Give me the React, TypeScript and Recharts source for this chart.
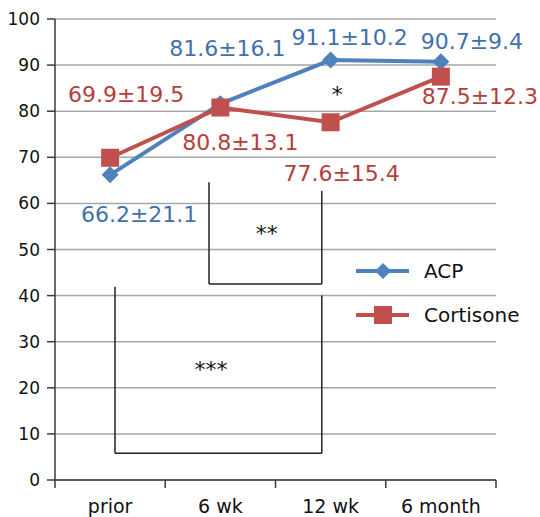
import React from "react";
import {
  LineChart,
  Line,
  XAxis,
  YAxis,
  CartesianGrid,
  LabelList,
  ReferenceLine,
  ReferenceDot,
} from "recharts";

// data
const categories = ["prior", "6 wk", "12 wk", "6 month"];
const acpMean = [66.2, 81.6, 91.1, 90.7];
const acpSd = [21.1, 16.1, 10.2, 9.4];
const cortMean = [69.9, 80.8, 77.6, 87.5];
const cortSd = [19.5, 13.1, 15.4, 12.3];
const yTicks = [0, 10, 20, 30, 40, 50, 60, 70, 80, 90, 100];

const BLUE = "#4F81BD";
const RED = "#C0504D";
const BLUE_TEXT = "#4270AC";
const RED_TEXT = "#B3403D";
const AXIS = "#3a3a3a";
const FONT = "'DejaVu Sans', sans-serif";

// label offsets (px) from each point
const acpLabelOffset = [
  { dx: 29, dy: 40 },
  { dx: 7, dy: -55 },
  { dx: 19, dy: -23 },
  { dx: 31, dy: -20 },
];
const cortLabelOffset = [
  { dx: 16, dy: -63 },
  { dx: 20, dy: 35 },
  { dx: 11, dy: 51 },
  { dx: 39, dy: 20 },
];

// significance brackets, in axis units
const brackets = [
  [
    { x: 0.544, y: 41.9 },
    { x: 0.544, y: 5.8 },
    { x: 2.42, y: 5.8 },
    { x: 2.42, y: 40 },
  ],
  [
    { x: 1.397, y: 64.6 },
    { x: 1.397, y: 42.5 },
    { x: 2.42, y: 42.5 },
    { x: 2.42, y: 62.7 },
  ],
];
const stars = [
  { x: 1.415, y: 24.7, text: "***" },
  { x: 1.92, y: 54.2, text: "**" },
  { x: 2.56, y: 84.4, text: "*" },
];

const data = categories.map((c, i) => ({
  name: c,
  pos: i + 0.5,
  acp: acpMean[i],
  cort: cortMean[i],
}));

const xTicks = [0, 0.5, 1, 1.5, 2, 2.5, 3, 3.5, 4];

function XTick(props: any) {
  const { x, y, payload } = props;
  const v = payload.value as number;
  if (Number.isInteger(v)) {
    return <line x1={x} x2={x} y1={y} y2={y + 8} stroke={AXIS} strokeWidth={1.5} />;
  }
  return (
    <text x={x} y={y + 33} textAnchor="middle" fill="#111" fontSize={19} fontFamily={FONT}>
      {categories[Math.floor(v)]}
    </text>
  );
}

function Diamond(props: any) {
  const { cx, cy } = props;
  if (cx == null || cy == null) return null;
  const r = 8.5;
  return (
    <path
      d={`M${cx},${cy - r} L${cx + r},${cy} L${cx},${cy + r} L${cx - r},${cy} Z`}
      fill={BLUE}
    />
  );
}

function Square(props: any) {
  const { cx, cy } = props;
  if (cx == null || cy == null) return null;
  return <rect x={cx - 9} y={cy - 9} width={18} height={18} fill={RED} />;
}

function makeLabel(sd: number[], offs: { dx: number; dy: number }[], color: string) {
  return (props: any) => {
    const { x, y, index, value } = props;
    const o = offs[index];
    return (
      <text
        x={x + o.dx}
        y={y + o.dy}
        textAnchor="middle"
        dominantBaseline="central"
        fill={color}
        fontSize={22}
        fontFamily={FONT}
      >
        {`${Number(value).toFixed(1)}±${sd[index].toFixed(1)}`}
      </text>
    );
  };
}

function LegendRow({ color, square, label }: { color: string; square: boolean; label: string }) {
  return (
    <div style={{ display: "flex", alignItems: "center", height: 44 }}>
      <svg width={53} height={20}>
        <line x1={0} x2={53} y1={10} y2={10} stroke={color} strokeWidth={4} />
        {square ? (
          <rect x={18} y={1} width={18} height={18} fill={color} />
        ) : (
          <path d="M27,2 L35,10 L27,18 L19,10 Z" fill={color} />
        )}
      </svg>
      <span style={{ marginLeft: 15, fontSize: 20, color: "#111" }}>{label}</span>
    </div>
  );
}

export default function App() {
  return (
    <div
      style={{
        position: "absolute",
        left: 0,
        top: 0,
        width: 540,
        height: 517,
        background: "#fff",
        fontFamily: FONT,
      }}
    >
      <LineChart
        width={540}
        height={517}
        data={data}
        margin={{ top: 19, right: 44, bottom: 0, left: 0 }}
      >
        <CartesianGrid vertical={false} stroke="#A6A6A6" strokeWidth={1.5} />
        <XAxis
          dataKey="pos"
          type="number"
          domain={[0, 4]}
          ticks={xTicks}
          interval={0}
          height={37}
          tickSize={0}
          tickMargin={0}
          tickLine={false}
          tick={<XTick />}
          stroke={AXIS}
          strokeWidth={1.5}
        />
        <YAxis
          domain={[0, 100]}
          ticks={yTicks}
          interval={0}
          width={55}
          tickSize={8}
          tickMargin={7}
          tick={{ fontSize: 17, fill: "#111", fontFamily: FONT }}
          stroke={AXIS}
          strokeWidth={1.5}
        />
        {brackets.map((b, bi) =>
          b.slice(1).map((p, i) => (
            <ReferenceLine
              key={`b${bi}-${i}`}
              segment={[b[i], p]}
              stroke="#222"
              strokeWidth={1.5}
              ifOverflow="visible"
            />
          ))
        )}
        {stars.map((s, i) => (
          <ReferenceDot
            key={`s${i}`}
            x={s.x}
            y={s.y}
            r={0}
            ifOverflow="visible"
            shape={(p: any) => (
              <text
                x={p.cx}
                y={p.cy + 11}
                textAnchor="middle"
                fontSize={22}
                fontFamily={FONT}
                fill="#111"
              >
                {s.text}
              </text>
            )}
          />
        ))}
        <Line
          dataKey="acp"
          type="linear"
          stroke={BLUE}
          strokeWidth={4}
          dot={<Diamond />}
          activeDot={false}
          isAnimationActive={false}
        >
          <LabelList dataKey="acp" content={makeLabel(acpSd, acpLabelOffset, BLUE_TEXT)} />
        </Line>
        <Line
          dataKey="cort"
          type="linear"
          stroke={RED}
          strokeWidth={4}
          dot={<Square />}
          activeDot={false}
          isAnimationActive={false}
        >
          <LabelList dataKey="cort" content={makeLabel(cortSd, cortLabelOffset, RED_TEXT)} />
        </Line>
      </LineChart>
      <div style={{ position: "absolute", left: 356, top: 249 }}>
        <LegendRow color={BLUE} square={false} label="ACP" />
        <LegendRow color={RED} square={true} label="Cortisone" />
      </div>
    </div>
  );
}
